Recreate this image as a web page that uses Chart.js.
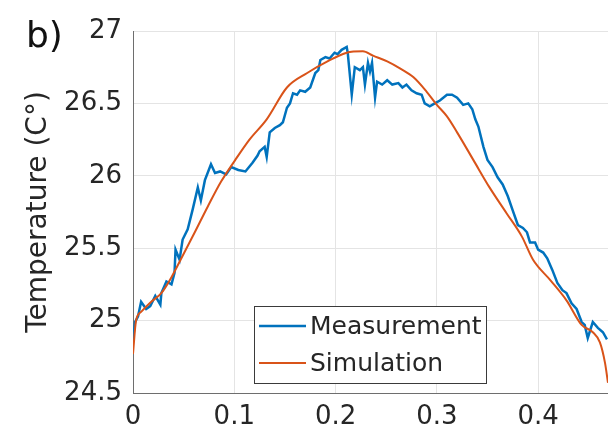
<!DOCTYPE html>
<html lang="en">
<head>
<meta charset="UTF-8">
<title>Temperature: measurement vs simulation</title>
<script src="https://cdn.jsdelivr.net/npm/chart.js@4.4.1/dist/chart.umd.min.js"></script>
<style>
  html, body { margin: 0; padding: 0; background: #fff; }
  #wrap { width: 608px; height: 445px; }
</style>
</head>
<body>
<div id="wrap"><canvas id="tempChart" width="608" height="445"></canvas></div>
<script>
// tick values
const xTicks = [0, 0.1, 0.2, 0.3, 0.4];
const yTicks = [24.5, 25, 25.5, 26, 26.5, 27];

const measX = [0.000, 0.002, 0.005, 0.008, 0.013, 0.017, 0.022, 0.027, 0.028, 0.033,
               0.038, 0.041, 0.042, 0.046, 0.049, 0.054, 0.059, 0.064, 0.067, 0.071,
               0.077, 0.081, 0.086, 0.092, 0.097, 0.104, 0.111, 0.118, 0.123, 0.125,
               0.130, 0.132, 0.135, 0.140, 0.145, 0.148, 0.152, 0.155, 0.158, 0.162,
               0.165, 0.170, 0.175, 0.180, 0.183, 0.185, 0.190, 0.194, 0.199, 0.202,
               0.206, 0.211, 0.212, 0.216, 0.219, 0.224, 0.227, 0.229, 0.232, 0.234,
               0.236, 0.239, 0.241, 0.246, 0.251, 0.256, 0.262, 0.266, 0.270, 0.275,
               0.280, 0.285, 0.288, 0.293, 0.298, 0.303, 0.310, 0.315, 0.320, 0.326,
               0.331, 0.335, 0.338, 0.341, 0.346, 0.350, 0.355, 0.360, 0.365, 0.370,
               0.375, 0.380, 0.385, 0.389, 0.392, 0.397, 0.400, 0.405, 0.409, 0.414,
               0.419, 0.424, 0.428, 0.433, 0.438, 0.443, 0.446, 0.449, 0.454, 0.459,
               0.464, 0.468];
const measY = [24.87, 24.99, 25.03, 25.13, 25.08, 25.10, 25.17, 25.11, 25.19, 25.27,
               25.25, 25.33, 25.49, 25.42, 25.56, 25.63, 25.77, 25.92, 25.83, 25.97,
               26.08, 26.02, 26.03, 26.01, 26.06, 26.04, 26.03, 26.09, 26.14, 26.17,
               26.20, 26.13, 26.30, 26.33, 26.35, 26.37, 26.47, 26.50, 26.57, 26.56,
               26.59, 26.58, 26.61, 26.71, 26.73, 26.80, 26.82, 26.81, 26.85, 26.84,
               26.87, 26.89, 26.85, 26.56, 26.75, 26.73, 26.75, 26.63, 26.78, 26.72,
               26.78, 26.54, 26.65, 26.63, 26.66, 26.63, 26.64, 26.61, 26.63, 26.59,
               26.57, 26.56, 26.50, 26.48, 26.50, 26.52, 26.56, 26.56, 26.54, 26.49,
               26.50, 26.46, 26.39, 26.34, 26.20, 26.11, 26.06, 25.99, 25.94, 25.86,
               25.76, 25.66, 25.64, 25.61, 25.54, 25.54, 25.49, 25.47, 25.43, 25.35,
               25.26, 25.21, 25.19, 25.12, 25.08, 24.99, 24.97, 24.88, 24.99, 24.95,
               24.92, 24.87];

// simulated curve
const simX = [0.000, 0.003, 0.008, 0.018, 0.028, 0.038, 0.047, 0.061, 0.074, 0.087,
              0.101, 0.115, 0.132, 0.152, 0.172, 0.192, 0.211, 0.227, 0.237, 0.251,
              0.264, 0.277, 0.290, 0.300, 0.310, 0.320, 0.336, 0.352, 0.369, 0.384,
              0.395, 0.412, 0.428, 0.443, 0.454, 0.461, 0.466, 0.469];
const simY = [24.77, 25.00, 25.06, 25.13, 25.19, 25.30, 25.42, 25.61, 25.79, 25.96,
              26.11, 26.25, 26.39, 26.61, 26.71, 26.79, 26.85, 26.86, 26.83, 26.79,
              26.74, 26.68, 26.58, 26.49, 26.41, 26.30, 26.11, 25.92, 25.74, 25.58,
              25.42, 25.28, 25.14, 24.97, 24.92, 24.85, 24.71, 24.57];

const seriesNames = ['Measurement', 'Simulation'];
const seriesColors = ['#0072BD', '#D95319'];
const yTitle = 'Temperature (C\u00B0)';
const panelLabel = 'b)';

Chart.defaults.font.family = '"DejaVu Sans", sans-serif';
Chart.defaults.color = '#262626';

function toPoints(xs, ys) {
    return xs.map((x, i) => ({ x: x, y: ys[i] }));
}

// legend box drawn inside the axes, MATLAB style
const boxLegend = {
    id: 'boxLegend',
    afterDraw(chart) {
        const ctx = chart.ctx;
        const x = 254, y = 306, w = 232, h = 77;
        ctx.save();
        ctx.fillStyle = '#fff';
        ctx.fillRect(x, y, w, h);
        ctx.strokeStyle = '#3a3a3a';
        ctx.lineWidth = 1;
        ctx.strokeRect(x + 0.5, y + 0.5, w, h);
        ctx.font = '25px "DejaVu Sans"';
        ctx.textBaseline = 'middle';
        chart.data.datasets.forEach((ds, i) => {
            const cy = y + 20 + i * 37;
            ctx.strokeStyle = ds.borderColor;
            ctx.lineWidth = ds.borderWidth;
            ctx.beginPath();
            ctx.moveTo(x + 5, cy);
            ctx.lineTo(x + 52, cy);
            ctx.stroke();
            ctx.fillStyle = '#262626';
            ctx.fillText(ds.label, x + 56, cy + 1);
        });
        ctx.restore();
    }
};

// "b)" panel letter
const panelTag = {
    id: 'panelTag',
    afterDraw(chart) {
        const ctx = chart.ctx;
        ctx.save();
        ctx.font = '36px "DejaVu Sans"';
        ctx.fillStyle = '#111';
        ctx.textBaseline = 'alphabetic';
        ctx.fillText(panelLabel, 26, 47);
        ctx.restore();
    }
};

new Chart(document.getElementById('tempChart'), {
    type: 'line',
    data: {
        datasets: [
            {
                label: seriesNames[0],
                data: toPoints(measX, measY),
                borderColor: seriesColors[0],
                borderWidth: 2.5,
                pointRadius: 0,
                tension: 0,
                order: 2
            },
            {
                label: seriesNames[1],
                data: toPoints(simX, simY),
                borderColor: seriesColors[1],
                borderWidth: 2,
                pointRadius: 0,
                cubicInterpolationMode: 'monotone',
                order: 1
            }
        ]
    },
    options: {
        responsive: false,
        animation: false,
        layout: { padding: { top: 31, right: 0, bottom: 0, left: 0 } },
        plugins: {
            legend: { display: false },
            tooltip: { enabled: false }
        },
        scales: {
            x: {
                type: 'linear',
                min: 0,
                max: 0.469,
                afterBuildTicks: s => { s.ticks = xTicks.map(v => ({ value: v })); },
                afterFit: s => { s.height = 52; },
                ticks: {
                    padding: 9,
                    font: { size: 26 },
                    color: '#262626',
                    callback: v => String(v)
                },
                grid: { color: '#e4e4e4', lineWidth: 1, drawTicks: false },
                border: { color: '#6e6e6e', width: 1 }
            },
            y: {
                min: 24.5,
                max: 27,
                afterBuildTicks: s => { s.ticks = yTicks.map(v => ({ value: v })); },
                afterFit: s => { s.width = 133; },
                ticks: {
                    padding: 11,
                    font: { size: 26 },
                    color: '#262626',
                    callback: v => String(v)
                },
                grid: { color: '#e4e4e4', lineWidth: 1, drawTicks: false },
                border: { color: '#6e6e6e', width: 1 },
                title: {
                    display: true,
                    text: yTitle,
                    font: { size: 28 },
                    color: '#262626',
                    padding: { top: 22, bottom: 0 }
                }
            }
        }
    },
    plugins: [boxLegend, panelTag]
});
</script>
</body>
</html>
